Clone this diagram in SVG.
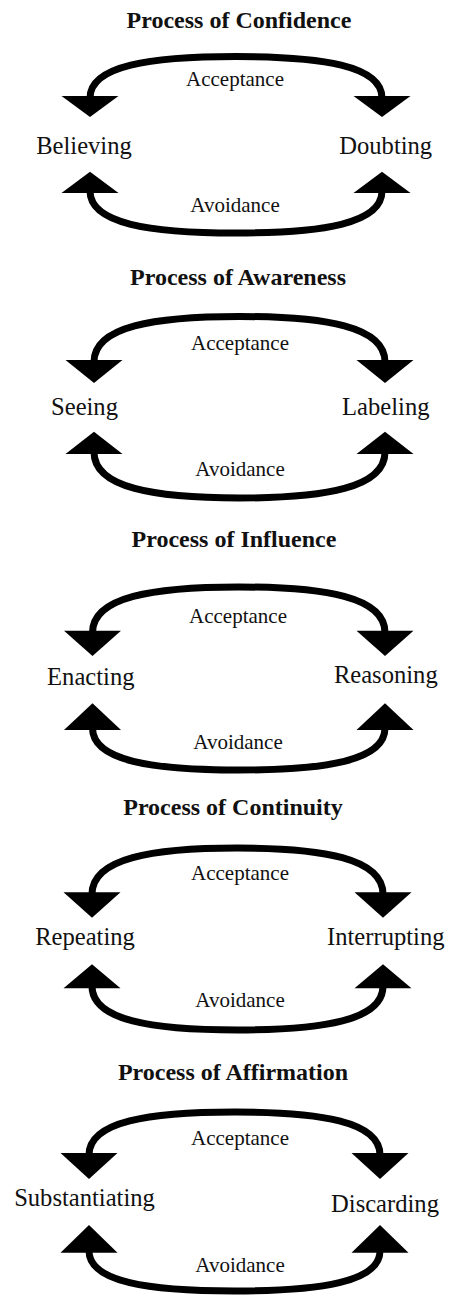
<svg xmlns="http://www.w3.org/2000/svg" width="449" height="1296" viewBox="0 0 449 1296">
<style>
text{font-family:"Liberation Serif","Times New Roman",serif;fill:#111;text-anchor:middle}
.title{font-size:24px;font-weight:bold}
.node{font-size:24.6px}
.lbl{font-size:21px}
.arc{fill:none;stroke:#000;stroke-width:7}
.head{fill:#000}
</style>
<rect width="449" height="1296" fill="#fff"/>
<g id="titles">
<text class="title" x="239" y="28">Process of Confidence</text>
<text class="title" x="238" y="285">Process of Awareness</text>
<text class="title" x="234" y="547.3">Process of Influence</text>
<text class="title" x="233" y="815">Process of Continuity</text>
<text class="title" x="233" y="1080">Process of Affirmation</text>
</g>
<g id="node-believing"><text class="node" x="84" y="153.5">Believing</text></g>
<g id="node-doubting"><text class="node" x="385.7" y="154">Doubting</text></g>
<g id="node-seeing"><text class="node" x="84.5" y="415">Seeing</text></g>
<g id="node-labeling"><text class="node" x="385.8" y="415">Labeling</text></g>
<g id="node-enacting"><text class="node" x="90.8" y="685">Enacting</text></g>
<g id="node-reasoning"><text class="node" x="385.8" y="682.7">Reasoning</text></g>
<g id="node-repeating"><text class="node" x="85" y="945">Repeating</text></g>
<g id="node-interrupting"><text class="node" x="385.8" y="945">Interrupting</text></g>
<g id="node-substantiating"><text class="node" x="84.5" y="1206">Substantiating</text></g>
<g id="node-discarding"><text class="node" x="385" y="1211.7">Discarding</text></g>
<g id="connectors">
<path class="arc" d="M90,98 C90,65.6 150,56.5 236,56.5 S382,65.6 382,98"/>
<polygon class="head" points="61.5,96 118.5,96 90,117"/>
<polygon class="head" points="353.5,96 410.5,96 382,117"/>
<path class="arc" d="M90,191 C90,223.8 150,233 236,233 S382,223.8 382,191"/>
<polygon class="head" points="61.5,193 118.5,193 90,171.7"/>
<polygon class="head" points="353.5,193 410.5,193 382,171.7"/>
<text class="lbl" x="235" y="86">Acceptance</text>
<text class="lbl" x="235" y="211.7">Avoidance</text>

<path class="arc" d="M94,362 C94,326.5 154,316.5 239.5,316.5 S385,326.5 385,362"/>
<polygon class="head" points="65.5,360 122.5,360 94,383"/>
<polygon class="head" points="356.5,360 413.5,360 385,383"/>
<path class="arc" d="M94,452 C94,487.9 154,498 239.5,498 S385,487.9 385,452"/>
<polygon class="head" points="65.5,454 122.5,454 94,431.7"/>
<polygon class="head" points="356.5,454 413.5,454 385,431.7"/>
<text class="lbl" x="240" y="350">Acceptance</text>
<text class="lbl" x="240" y="476">Avoidance</text>

<path class="arc" d="M92.5,632.7 C92.5,597 152.5,587 238.75,587 S385,597 385,632.7"/>
<polygon class="head" points="64,630.7 121,630.7 92.5,656"/>
<polygon class="head" points="356.5,630.7 413.5,630.7 385,656"/>
<path class="arc" d="M92.5,728 C92.5,760.8 152.5,770 238.75,770 S385,760.8 385,728"/>
<polygon class="head" points="64,730 121,730 92.5,703.3"/>
<polygon class="head" points="356.5,730 413.5,730 385,703.3"/>
<text class="lbl" x="238" y="622.7">Acceptance</text>
<text class="lbl" x="238" y="749.3">Avoidance</text>

<path class="arc" d="M92,894.3 C92,858.2 152,848 237.5,848 S383,858.2 383,894.3"/>
<polygon class="head" points="63.5,892.3 120.5,892.3 92,917.7"/>
<polygon class="head" points="354.5,892.3 411.5,892.3 383,917.7"/>
<path class="arc" d="M92,986.3 C92,1020.4 152,1030 237.5,1030 S383,1020.4 383,986.3"/>
<polygon class="head" points="63.5,988.3 120.5,988.3 92,964.3"/>
<polygon class="head" points="354.5,988.3 411.5,988.3 383,964.3"/>
<text class="lbl" x="240" y="880">Acceptance</text>
<text class="lbl" x="240" y="1006.7">Avoidance</text>

<path class="arc" d="M89,1155 C89,1121.4 149,1112 234.5,1112 S380,1121.4 380,1155"/>
<polygon class="head" points="60.5,1153 117.5,1153 89,1179"/>
<polygon class="head" points="351.5,1153 408.5,1153 380,1179"/>
<path class="arc" d="M89,1250.7 C89,1282.2 149,1291 234.5,1291 S380,1282.2 380,1250.7"/>
<polygon class="head" points="60.5,1252.7 117.5,1252.7 89,1225"/>
<polygon class="head" points="351.5,1252.7 408.5,1252.7 380,1225"/>
<text class="lbl" x="240" y="1145">Acceptance</text>
<text class="lbl" x="240" y="1271.7">Avoidance</text>
</g>
</svg>
